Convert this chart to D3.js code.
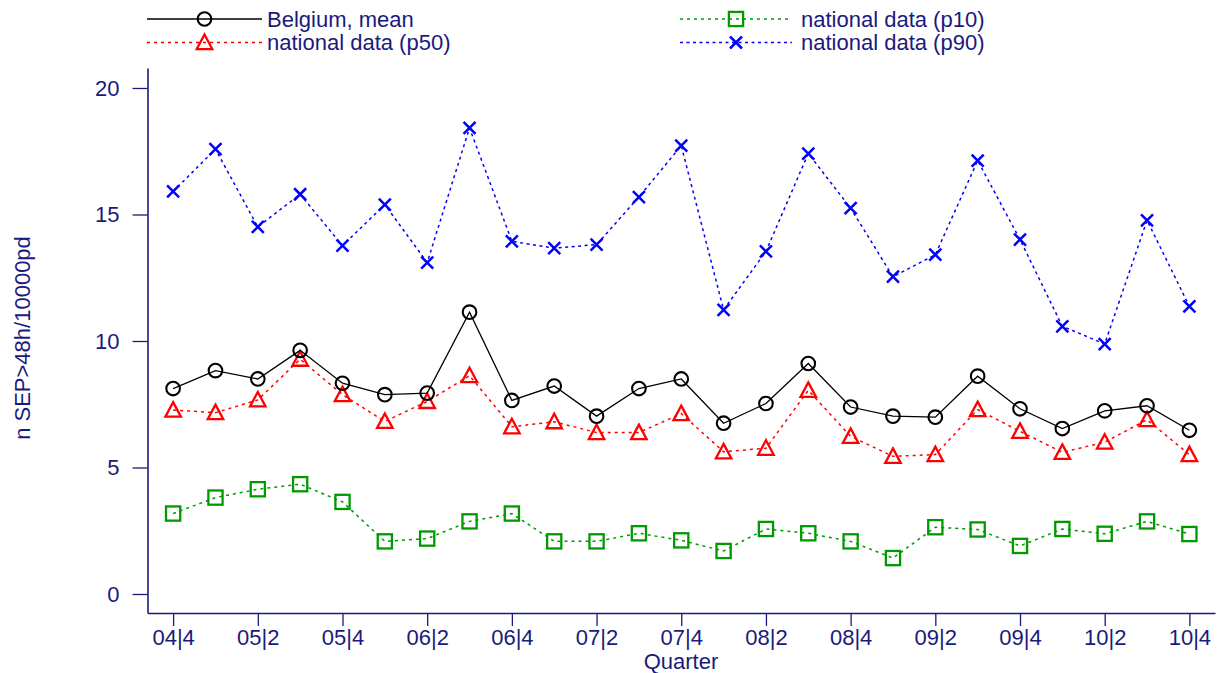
<!DOCTYPE html>
<html>
<head>
<meta charset="utf-8">
<script src="https://cdn.jsdelivr.net/npm/d3@7"></script>
<style>
  html, body { margin: 0; padding: 0; background: #fff; }
  svg { display: block; }
  text { font-family: "Liberation Sans", Arial, sans-serif; }
</style>
</head>
<body>
<svg id="chart" width="1228" height="673"></svg>
<script>
const quarters = ["04|4","05|1","05|2","05|3","05|4","06|1","06|2","06|3","06|4","07|1","07|2","07|3","07|4",
                  "08|1","08|2","08|3","08|4","09|1","09|2","09|3","09|4","10|1","10|2","10|3","10|4"];
const tickLabels = ["04|4","05|2","05|4","06|2","06|4","07|2","07|4","08|2","08|4","09|2","09|4","10|2","10|4"];
const yTicks = [0, 5, 10, 15, 20];

const belgiumMean = [8.12, 8.83, 8.50, 9.63, 8.33, 7.88, 7.94, 11.14, 7.65, 8.22, 7.03, 8.12, 8.50,
                     6.75, 7.53, 9.11, 7.39, 7.03, 6.99, 8.61, 7.32, 6.54, 7.24, 7.44, 6.47];
const p50 = [7.27, 7.17, 7.67, 9.28, 7.88, 6.82, 7.61, 8.63, 6.61, 6.81, 6.38, 6.38, 7.13,
             5.62, 5.76, 8.05, 6.23, 5.44, 5.51, 7.29, 6.43, 5.60, 6.00, 6.89, 5.51];
const p10 = [3.18, 3.81, 4.14, 4.34, 3.64, 2.08, 2.19, 2.87, 3.18, 2.08, 2.08, 2.40, 2.12,
             1.70, 2.57, 2.40, 2.08, 1.42, 2.64, 2.55, 1.90, 2.57, 2.38, 2.87, 2.37];
const p90 = [15.91, 17.58, 14.51, 15.80, 13.77, 15.39, 13.10, 18.42, 13.94, 13.67, 13.81, 15.69, 17.72,
             11.23, 13.54, 17.41, 15.25, 12.54, 13.41, 17.13, 14.01, 10.58, 9.88, 14.77, 11.37];

const seriesNames = ["Belgium, mean", "national data (p50)", "national data (p10)", "national data (p90)"];

const NAVY = "#1a1a7c";
const svg = d3.select("#chart");

const x = d3.scalePoint().domain(quarters).range([147.5, 1215]).padding(0.605);
const y = d3.scaleLinear().domain([-0.751, 20.79]).range([613, 68]);

// axes
const yAxis = svg.append("g").attr("transform", "translate(147.5,0)")
  .call(d3.axisLeft(y).tickValues(yTicks).tickSize(15).tickSizeOuter(0).tickPadding(13).tickFormat(d3.format("d")));
const xAxis = svg.append("g").attr("transform", "translate(0,613)")
  .call(d3.axisBottom(x).tickValues(tickLabels).tickSize(13).tickSizeOuter(0).tickPadding(3));
[yAxis, xAxis].forEach(g => {
  g.selectAll("path.domain").attr("stroke", NAVY).attr("stroke-width", 1.6);
  g.selectAll(".tick line").attr("stroke", NAVY).attr("stroke-width", 1.3);
  g.selectAll(".tick text").attr("fill", NAVY).style("font-size", "22px")
    .style("font-family", "'Liberation Sans', Arial, sans-serif");
});

// titles
svg.append("text").attr("x", 681).attr("y", 668.5).attr("text-anchor", "middle")
  .attr("fill", NAVY).style("font-size", "22px").text("Quarter");
svg.append("text").attr("transform", "translate(30,338) rotate(-90)").attr("text-anchor", "middle")
  .attr("fill", NAVY).style("font-size", "22px").text("n SEP>48h/10000pd");

// marker drawers
function drawMarker(g, type, cx, cy) {
  if (type === "circle") {
    g.append("circle").attr("cx", cx).attr("cy", cy).attr("r", 6.8)
      .attr("fill", "none").attr("stroke", "#000").attr("stroke-width", 2.1);
  } else if (type === "triangle") {
    const h = 14.5, w = 15.5;
    g.append("path").attr("d", `M${cx},${cy - h * 0.55} L${cx + w / 2},${cy + h * 0.45} L${cx - w / 2},${cy + h * 0.45} Z`)
      .attr("fill", "none").attr("stroke", "#ff0000").attr("stroke-width", 2.3);
  } else if (type === "square") {
    const s = 14.2;
    g.append("rect").attr("x", cx - s / 2).attr("y", cy - s / 2).attr("width", s).attr("height", s)
      .attr("fill", "none").attr("stroke", "#009a00").attr("stroke-width", 2.3);
  } else if (type === "x") {
    const s = 6;
    g.append("path").attr("d", `M${cx - s},${cy - s} L${cx + s},${cy + s} M${cx - s},${cy + s} L${cx + s},${cy - s}`)
      .attr("fill", "none").attr("stroke", "#0000ff").attr("stroke-width", 2.5);
  }
}

const series = [
  { name: seriesNames[0], values: belgiumMean, color: "#000", dash: null, width: 1.3, marker: "circle" },
  { name: seriesNames[1], values: p50, color: "#ff0000", dash: "3,4", width: 1.5, marker: "triangle" },
  { name: seriesNames[2], values: p10, color: "#009a00", dash: "3,4", width: 1.5, marker: "square" },
  { name: seriesNames[3], values: p90, color: "#0000ff", dash: "3,3.5", width: 1.5, marker: "x" }
];

const line = d3.line().x((d, i) => x(quarters[i])).y(d => y(d));

// draw order: p90, p10, p50, mean
[3, 2, 1, 0].forEach(k => {
  const s = series[k];
  const g = svg.append("g");
  g.append("path").datum(s.values).attr("d", line)
    .attr("fill", "none").attr("stroke", s.color).attr("stroke-width", s.width)
    .attr("stroke-dasharray", s.dash);
  s.values.forEach((v, i) => drawMarker(g, s.marker, x(quarters[i]), y(v)));
});

// legend
const legendPos = [
  { x0: 147, x1: 262, y: 19, tx: 267, ty: 26.5 },
  { x0: 147, x1: 262, y: 42.5, tx: 267, ty: 50 },
  { x0: 680, x1: 792, y: 19, tx: 801, ty: 26.5 },
  { x0: 680, x1: 792, y: 42.5, tx: 801, ty: 50 }
];
series.forEach((s, k) => {
  const p = legendPos[k];
  const g = svg.append("g");
  g.append("line").attr("x1", p.x0).attr("x2", p.x1).attr("y1", p.y).attr("y2", p.y)
    .attr("stroke", s.color).attr("stroke-width", s.width).attr("stroke-dasharray", s.dash);
  const mx = (p.x0 + p.x1) / 2;
  drawMarker(g, s.marker, mx, p.y);
  g.append("text").attr("x", p.tx).attr("y", p.ty).attr("fill", NAVY).style("font-size", "22px").text(s.name);
});
</script>
</body>
</html>
